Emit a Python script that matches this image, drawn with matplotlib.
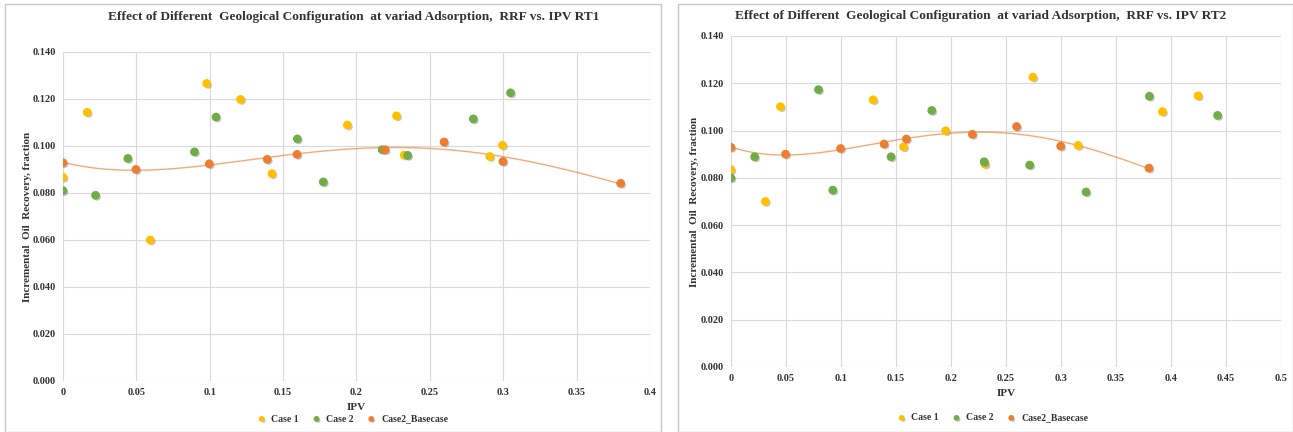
import matplotlib.pyplot as plt
import matplotlib.patheffects as pe
import numpy as np
from matplotlib.patches import Rectangle

# ---- data ----
# RT1 (left)
rt1_case1_x = [0.0, 0.0165, 0.0595, 0.0979, 0.121, 0.1424, 0.1938, 0.2273, 0.2325, 0.2909, 0.2995]
rt1_case1_y = [0.0867, 0.1143, 0.060, 0.1266, 0.1198, 0.0882, 0.1089, 0.1128, 0.0961, 0.0955, 0.1003]
rt1_case2_x = [0.0, 0.0222, 0.0442, 0.0896, 0.1043, 0.1597, 0.1774, 0.2175, 0.2349, 0.2796, 0.305]
rt1_case2_y = [0.081, 0.079, 0.0947, 0.0975, 0.1123, 0.103, 0.0847, 0.0984, 0.0960, 0.1115, 0.1226]

# RT2 (right)
rt2_case1_x = [0.0, 0.0313, 0.045, 0.1293, 0.157, 0.1952, 0.2309, 0.2745, 0.3156, 0.3923, 0.4247]
rt2_case1_y = [0.0835, 0.070, 0.1101, 0.113, 0.0931, 0.0999, 0.0858, 0.1226, 0.0937, 0.108, 0.1147]
rt2_case2_x = [0.0, 0.0216, 0.0796, 0.0926, 0.1455, 0.1826, 0.2302, 0.2716, 0.3228, 0.3804, 0.4424]
rt2_case2_y = [0.080, 0.0889, 0.1173, 0.0748, 0.0889, 0.1085, 0.0868, 0.0854, 0.074, 0.1145, 0.1064]

# basecase is the same on both charts
base_x = [0.0, 0.0497, 0.0997, 0.1392, 0.1595, 0.2195, 0.2597, 0.2998, 0.38]
base_y = [0.0929, 0.090, 0.0924, 0.0943, 0.0964, 0.0984, 0.1017, 0.0934, 0.0841]

C1 = "#FFC000"
C2 = "#70AD47"
CB = "#ED7D31"
SERIF = ["Liberation Serif", "DejaVu Serif"]

fig = plt.figure(figsize=(12.93, 4.32), dpi=100)

# panel frames
for x0, w in [(0.004, 0.507), (0.524, 0.476)]:
    fig.add_artist(Rectangle((x0, 0.0), w, 0.99, transform=fig.transFigure,
                             fill=False, edgecolor="#c8c8c8", lw=1.0))

shadow = [pe.SimplePatchShadow(offset=(1.2, -1.2), shadow_rgbFace="#808080", alpha=0.45), pe.Normal()]


def draw_panel(ax, c1x, c1y, c2x, c2y, xmax, title, title_x, title_y, xlab_y, ylab_x, leg_y):
    ax.scatter(c1x, c1y, s=28, color=C1, zorder=3, path_effects=shadow, label="Case 1")
    ax.scatter(c2x, c2y, s=28, color=C2, zorder=4, path_effects=shadow, label="Case 2")
    ax.scatter(base_x, base_y, s=28, color=CB, zorder=5, path_effects=shadow, label="Case2_Basecase")

    # polynomial trendline through the basecase
    coef = np.polyfit(base_x, base_y, 4)
    xs = np.linspace(min(base_x), max(base_x), 200)
    ax.plot(xs, np.polyval(coef, xs), color=CB, lw=1.0, alpha=0.65, zorder=2)

    ax.set_xlim(0, xmax)
    ax.set_ylim(0, 0.14)
    ax.set_xticks(np.arange(0, xmax + 1e-9, 0.05))
    ax.set_yticks(np.arange(0, 0.1401, 0.02))
    ax.set_xticklabels([f"{v:g}" for v in np.arange(0, xmax + 1e-9, 0.05).round(2)])
    ax.set_yticklabels([f"{v:.3f}" for v in np.arange(0, 0.1401, 0.02)])
    ax.grid(True, color="#d9d9d9", lw=0.8)
    ax.set_axisbelow(True)
    for s in ax.spines.values():
        s.set_visible(False)
    ax.tick_params(length=0, labelsize=7.5, pad=5, colors="#333333")
    for lab in ax.get_xticklabels() + ax.get_yticklabels():
        lab.set_family(SERIF)
        lab.set_fontweight("bold")

    fig.text(title_x, title_y, title, ha="center", va="center", family=SERIF,
             fontweight="bold", fontsize=9.6, color="#333333")
    pos = ax.get_position()
    fig.text(pos.x0 + pos.width / 2, xlab_y, "IPV", ha="center", va="center",
             family=SERIF, fontweight="bold", fontsize=8, color="#333333")
    fig.text(ylab_x, pos.y0 + pos.height / 2, "Incremental  Oil  Recovery, fraction",
             rotation=90, ha="center", va="center", family=SERIF, fontweight="bold",
             fontsize=8, color="#333333")
    leg = ax.legend(loc="center", bbox_to_anchor=(0.5, leg_y), bbox_transform=fig.transFigure,
                    ncol=3, frameon=False, handletextpad=0.0, columnspacing=0.8,
                    markerscale=0.6, prop={"family": SERIF, "weight": "bold", "size": 7})
    for t in leg.get_texts():
        t.set_color("#333333")
    return leg


ax1 = fig.add_axes([0.0487, 0.1181, 0.454, 0.7616])
leg1 = draw_panel(ax1, rt1_case1_x, rt1_case1_y, rt1_case2_x, rt1_case2_y, 0.4,
                  "Effect of Different  Geological Configuration  at variad Adsorption,  RRF vs. IPV RT1",
                  0.2735, 1 - 17 / 432, 1 - 408 / 432, 0.021, 1 - 419 / 432)
leg1.set_bbox_to_anchor((350 / 1293, 1 - 419 / 432), transform=fig.transFigure)

ax2 = fig.add_axes([0.5653, 0.1505, 0.4254, 0.7662])
leg2 = draw_panel(ax2, rt2_case1_x, rt2_case1_y, rt2_case2_x, rt2_case2_y, 0.5,
                  "Effect of Different  Geological Configuration  at variad Adsorption,  RRF vs. IPV RT2",
                  0.7585, 1 - 16 / 432, 1 - 394 / 432, 0.5375, 1 - 418 / 432)
leg2.set_bbox_to_anchor((990 / 1293, 1 - 418 / 432), transform=fig.transFigure)

fig.savefig("out.png", dpi=100)
